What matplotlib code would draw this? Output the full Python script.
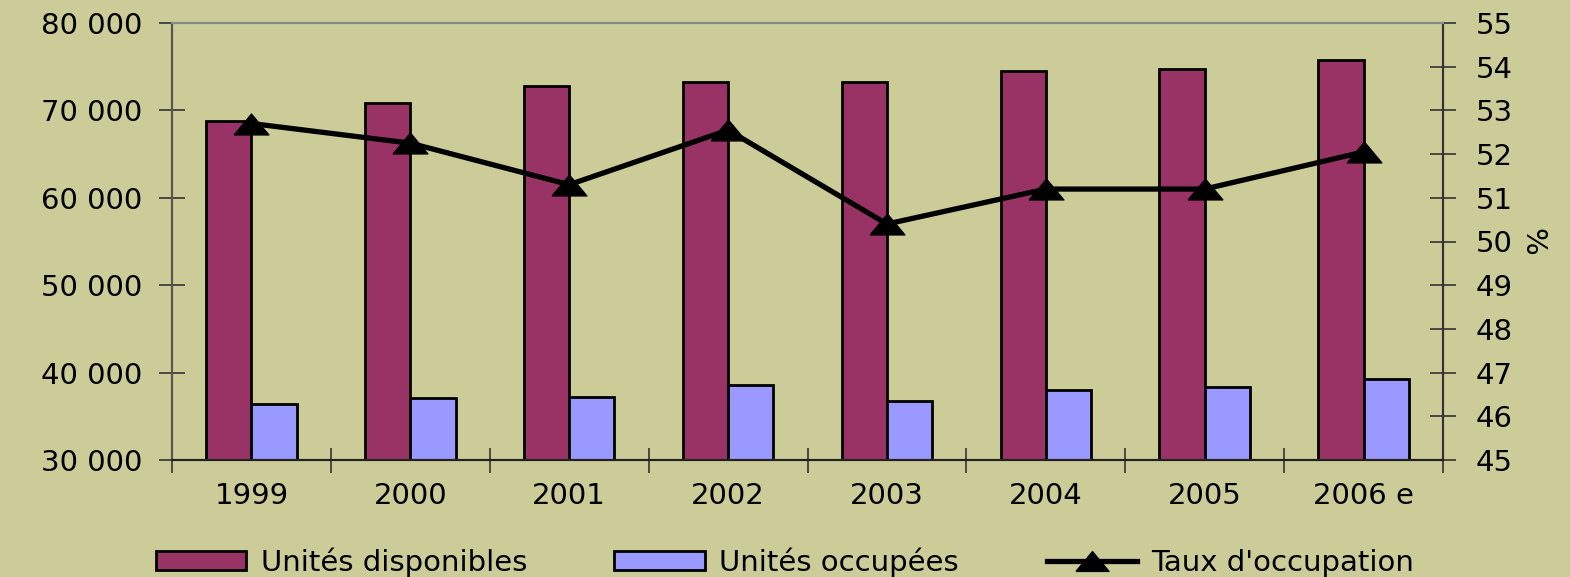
import matplotlib
matplotlib.use("Agg")
import matplotlib.pyplot as plt
import numpy as np
from matplotlib.ticker import FuncFormatter, FixedLocator

years = ["1999", "2000", "2001", "2002", "2003", "2004", "2005", "2006 e"]
unites_disponibles = [68800, 70800, 72800, 73200, 73200, 74500, 74700, 75800]
unites_occupees = [36400, 37100, 37200, 38600, 36750, 38000, 38300, 39300]
taux_occupation = [52.7, 52.25, 51.3, 52.55, 50.4, 51.2, 51.2, 52.05]

bg = "#CCCC99"
maroon = "#993366"
blue = "#9999FF"

plt.rcParams['font.family'] = ['DejaVu Sans']

fig = plt.figure(figsize=(15.7, 5.77), dpi=100, facecolor=bg)
ax = fig.add_axes([172/1570, 1-460/577, (1443-172)/1570, (460-23)/577])
ax.set_facecolor(bg)

x = np.arange(len(years))
w = 0.285
b1 = ax.bar(x - w/2, unites_disponibles, width=w, color=maroon, edgecolor="black",
            linewidth=2.0, label="Unités disponibles", zorder=2)
b2 = ax.bar(x + w/2, unites_occupees, width=w, color=blue, edgecolor="black",
            linewidth=2.0, label="Unités occupées", zorder=2)
ax.set_ylim(30000, 80000)
ax.set_xlim(-0.5, len(years) - 0.5)
ax.set_yticks(np.arange(30000, 80001, 10000))
ax.yaxis.set_major_formatter(FuncFormatter(lambda v, p: f"{int(v):,}".replace(",", " ")))
ax.set_xticks(x)
ax.set_xticklabels(years)
ax.xaxis.set_minor_locator(FixedLocator(np.arange(-0.5, len(years), 1.0)))
ax.tick_params(axis="x", which="major", length=0, pad=16, labelsize=21)
ax.tick_params(axis="x", which="minor", direction="inout", length=18, width=1.2, color="#333333")
ax.tick_params(axis="y", direction="inout", length=19, width=1.2, pad=12, labelsize=21, color="#333333")

ax2 = ax.twinx()
triangle = [(-1, -0.6), (1, -0.6), (0, 0.6), (-1, -0.6)]
line, = ax2.plot(x, taux_occupation, color="black", linewidth=3.8, marker=triangle,
                 markersize=25, markerfacecolor="black", markeredgecolor="black",
                 label="Taux d'occupation", zorder=3)
ax2.set_ylim(45, 55)
ax2.set_yticks(np.arange(45, 56, 1))
ax2.tick_params(axis="y", direction="inout", length=19, width=1.2, pad=14, labelsize=21, color="#333333")
ax2.set_ylabel("%", rotation=-90, fontsize=21, labelpad=14, va="center")

for a in (ax, ax2):
    a.spines["top"].set_color("#888888")
    a.spines["top"].set_linewidth(1.5)
    a.spines["left"].set_color("#555555")
    a.spines["left"].set_linewidth(1.5)
    a.spines["right"].set_color("#333333")
    a.spines["right"].set_linewidth(1.5)
    a.spines["bottom"].set_color("#222222")
    a.spines["bottom"].set_linewidth(1.5)

fig.legend(handles=[b1, b2, line], loc="lower center", bbox_to_anchor=(0.5, -0.045),
           ncol=3, frameon=False, fontsize=21, handlelength=3.1, handleheight=0.6,
           handletextpad=0.5, columnspacing=3.0, numpoints=1, markerscale=0.95)

fig.savefig("out.png", dpi=100, facecolor=bg)
